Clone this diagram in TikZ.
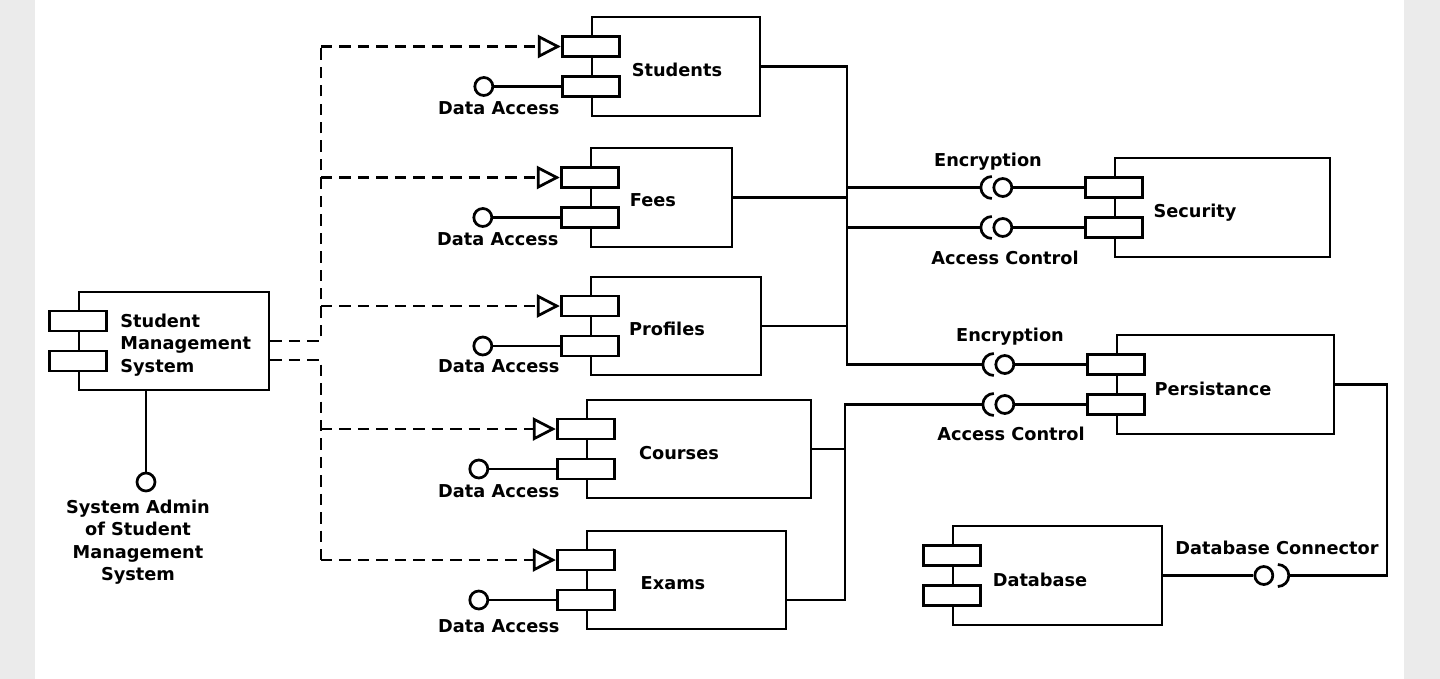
\documentclass[tikz,border=0pt]{standalone}
\usepackage{fontspec}
\setmainfont{DejaVu Sans}
\usepackage{tikz}
\usetikzlibrary{arrows.meta}
\definecolor{sidegray}{RGB}{235,235,235}

\begin{document}
\begin{tikzpicture}[
            x=0.02cm, y=-0.02cm,
            line width=1.55pt,
            comp/.style={draw, inner sep=0pt, minimum height=1.98cm},
            port/.style={draw, fill=white, inner sep=0pt, minimum width=1.14cm, minimum height=0.4cm},
            ball/.style={draw, circle, fill=white, inner sep=0pt, minimum size=0.36cm},
            txt/.style={font=\fontsize{10.1}{12.75}\selectfont\bfseries, inner sep=0pt},
            dashline/.style={dash pattern=on 6.5pt off 4pt},
            dep/.style={dashline, -{Triangle[open, length=13pt, width=13pt]}}
        ]

            \fill[sidegray] (0,0) rectangle (1440,679);
            \fill[white] (35,0) rectangle (1404,679);
            \useasboundingbox (0,0) rectangle (1440,679);

            % main system
            \node[comp, minimum width=3.8cm, minimum height=1.96cm] (sms) at (174,341) {};
            \node[port] (sms-a) at ([yshift=0.4cm]sms.west) {};
            \node[port] (sms-b) at ([yshift=-0.4cm]sms.west) {};
            \node[txt, align=left, anchor=west] (sms-t) at (119,345) {Student\\Management\\System};
            \node[ball] (sms-adm) at (146,482) {};
            \draw (sms-adm) -- (sms-adm |- sms.south);
            \node[txt, align=center] (sms-adm-t) at (138,542) {System Admin\\of Student\\Management\\System};

            % students
            \node[comp, minimum width=3.36cm] (stu) at (676,66.5) {};
            \node[port] (stu-a) at ([yshift=0.4cm]stu.west) {};
            \node[port] (stu-b) at ([yshift=-0.4cm]stu.west) {};
            \node[txt] (stu-t) at (677,70) {Students};
            \node[ball] (stu-da) at ([xshift=-1.54cm]stu-b.west) {};
            \node[txt] (stu-dt) at ([xshift=0.3cm, yshift=-0.43cm]stu-da.center) {Data Access};
            \draw (stu-b) -- (stu-da);

            % fees
            \node[comp, minimum width=2.82cm] (fee) at (661.5,197.5) {};
            \node[port] (fee-a) at ([yshift=0.4cm]fee.west) {};
            \node[port] (fee-b) at ([yshift=-0.4cm]fee.west) {};
            \node[txt] (fee-t) at (653,200) {Fees};
            \node[ball] (fee-da) at ([xshift=-1.54cm]fee-b.west) {};
            \node[txt] (fee-dt) at ([xshift=0.3cm, yshift=-0.43cm]fee-da.center) {Data Access};
            \draw (fee-b) -- (fee-da);

            % profiles
            \node[comp, minimum width=3.4cm, minimum height=1.96cm] (pro) at (676,326) {};
            \node[port] (pro-a) at ([yshift=0.4cm]pro.west) {};
            \node[port] (pro-b) at ([yshift=-0.4cm]pro.west) {};
            \node[txt] (pro-t) at (667,329) {Profiles};
            \node[ball] (pro-da) at ([xshift=-1.54cm]pro-b.west) {};
            \node[txt] (pro-dt) at ([xshift=0.32cm, yshift=-0.4cm]pro-da.center) {Data Access};
            \draw (pro-b) -- (pro-da);

            % courses
            \node[comp, minimum width=4.48cm, minimum height=1.96cm] (cou) at (699,449) {};
            \node[port] (cou-a) at ([yshift=0.4cm]cou.west) {};
            \node[port] (cou-b) at ([yshift=-0.4cm]cou.west) {};
            \node[txt] (cou-t) at (679,453) {Courses};
            \node[ball] (cou-da) at ([xshift=-1.54cm]cou-b.west) {};
            \node[txt] (cou-dt) at ([xshift=0.4cm, yshift=-0.45cm]cou-da.center) {Data Access};
            \draw (cou-b) -- (cou-da);

            % exams
            \node[comp, minimum width=3.98cm, minimum height=1.96cm] (exa) at (686.5,580) {};
            \node[port] (exa-a) at ([yshift=0.4cm]exa.west) {};
            \node[port] (exa-b) at ([yshift=-0.4cm]exa.west) {};
            \node[txt] (exa-t) at (673,583) {Exams};
            \node[ball] (exa-da) at ([xshift=-1.54cm]exa-b.west) {};
            \node[txt] (exa-dt) at ([xshift=0.4cm, yshift=-0.52cm]exa-da.center) {Data Access};
            \draw (exa-b) -- (exa-da);

            % security
            \node[comp, minimum width=4.3cm] (sec) at (1222.5,207.5) {};
            \node[port] (sec-a) at ([yshift=0.4cm]sec.west) {};
            \node[port] (sec-b) at ([yshift=-0.4cm]sec.west) {};
            \node[txt] (sec-t) at (1195,213) {Security};
            \node[ball] (sec-enc) at ([xshift=-1.62cm]sec-a.west) {};
            \node[ball] (sec-acc) at ([xshift=-1.62cm]sec-b.west) {};
            \node[txt] (sec-enc-t) at (988,162) {Encryption};
            \node[txt] (sec-acc-t) at (1005,258) {Access Control};
            \draw (sec-a) -- (sec-enc);
            \draw (sec-b) -- (sec-acc);
            \draw ([xshift=-0.22cm, yshift=0.22cm]sec-enc.center) arc (90:270:0.22cm);
            \draw ([xshift=-0.22cm, yshift=0.22cm]sec-acc.center) arc (90:270:0.22cm);
            \coordinate (sec-enc-s) at ([xshift=-0.44cm]sec-enc.center);
            \coordinate (sec-acc-s) at ([xshift=-0.44cm]sec-acc.center);

            % persistance
            \node[comp, minimum width=4.34cm] (pers) at (1225.5,384.5) {};
            \node[port] (pers-a) at ([yshift=0.4cm]pers.west) {};
            \node[port] (pers-b) at ([yshift=-0.4cm]pers.west) {};
            \node[txt] (pers-t) at (1213,389) {Persistance};
            \node[ball] (pers-enc) at ([xshift=-1.62cm]pers-a.west) {};
            \node[ball] (pers-acc) at ([xshift=-1.62cm]pers-b.west) {};
            \node[txt] (pers-enc-t) at (1010,337) {Encryption};
            \node[txt] (pers-acc-t) at (1011,434) {Access Control};
            \draw (pers-a) -- (pers-enc);
            \draw (pers-b) -- (pers-acc);
            \draw ([xshift=-0.22cm, yshift=0.22cm]pers-enc.center) arc (90:270:0.22cm);
            \draw ([xshift=-0.22cm, yshift=0.22cm]pers-acc.center) arc (90:270:0.22cm);
            \coordinate (pers-enc-s) at ([xshift=-0.44cm]pers-enc.center);
            \coordinate (pers-acc-s) at ([xshift=-0.44cm]pers-acc.center);

            % database
            \node[comp, minimum width=4.18cm] (db) at (1057.5,575.5) {};
            \node[port] (db-a) at ([yshift=0.4cm]db.west) {};
            \node[port] (db-b) at ([yshift=-0.4cm]db.west) {};
            \node[txt] (db-t) at (1040,580) {Database};
            \node[ball] (db-con) at ([xshift=2.01cm]db.east) {};
            \node[txt] (db-con-t) at (1277,548) {Database Connector};
            \draw (db) -- (db-con);
            \draw ([xshift=0.28cm, yshift=0.22cm]db-con.center) arc (90:-90:0.22cm);
            \coordinate (db-con-s) at ([xshift=0.5cm]db-con.center);
            \coordinate (db-r) at (1387,0);
            \draw (pers.east) -| (db-r |- db-con-s) -- (db-con-s);

            % buses
            \coordinate (bus-up) at (847,0);
            \coordinate (bus-lo) at (845,0);
            \coordinate (exa-r) at ([yshift=-0.4cm]exa.east);
            \draw (stu.east) -- (stu.east -| bus-up) -- (pers-enc-s -| bus-up) -- (pers-enc-s);
            \draw (fee.east) -- (fee.east -| bus-up);
            \draw (pro.east) -- (pro.east -| bus-up);
            \draw (sec-enc-s -| bus-up) -- (sec-enc-s);
            \draw (sec-acc-s -| bus-up) -- (sec-acc-s);
            \draw (pers-acc-s) -- (pers-acc-s -| bus-lo) -- (exa-r -| bus-lo) -- (exa-r);
            \draw (cou.east) -- (cou.east -| bus-lo);

            % dependencies
            \coordinate (dx) at (321,0);
            \coordinate (sms-lo) at ([yshift=-0.38cm]sms.east);
            \draw[dashline] (sms.east) -| (dx |- stu-a);
            \draw[dashline] (sms-lo) -| (dx |- exa-a);
            \draw[dep] (dx |- stu-a) -- (stu-a);
            \draw[dep] (dx |- fee-a) -- (fee-a);
            \draw[dep] (dx |- pro-a) -- (pro-a);
            \draw[dep] (dx |- cou-a) -- (cou-a);
            \draw[dep] (dx |- exa-a) -- (exa-a);
        \end{tikzpicture}
\end{document}
